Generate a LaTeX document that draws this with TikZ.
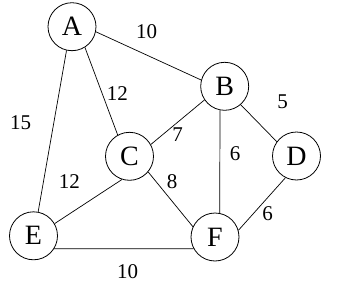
\documentclass[tikz,border=0pt]{standalone}
\usepackage{fontspec}
\setmainfont{Liberation Serif}
\begin{document}
\begin{tikzpicture}[x=1pt,y=-1pt,
  vtx/.style={draw,circle,minimum size=48pt,inner sep=0pt,line width=0.8pt,font=\fontsize{28}{30}\selectfont},
  wt/.style={inner sep=0pt,font=\fontsize{21}{24}\selectfont},
  edge/.style={line width=0.7pt}]
\useasboundingbox (0,0) rectangle (346,292);
\node[vtx] (A) at (72,26.7) {A};
\node[vtx] (B) at (224.7,86.3) {B};
\node[vtx] (C) at (129.5,156.3) {C};
\node[vtx] (D) at (296.5,156) {D};
\node[vtx] (E) at (33.5,235.8) {E};
\node[vtx] (F) at (215,237) {F};
\draw[edge] (A.-12) -- (B.165);
\draw[edge] (A.-58) -- (C.119);
\draw[edge] (A.-103) -- (E.79);
\draw[edge] (B.-146) -- (C.29);
\draw[edge] (B.-49) -- (D.144);
\draw[edge] (B.-101) -- (F.79);
\draw[edge] (C.-108) -- (E.30);
\draw[edge] (C.-40) -- (F.155);
\draw[edge] (D.-117) -- (F.16);
\draw[edge] (E.-32) -- (F.-151);
\node[wt] (wAB) at (146.7,31.7) {10};
\node[wt] (wAC) at (117.3,93.3) {12};
\node[wt] (wAE) at (20.7,122.7) {15};
\node[wt] (wBD) at (282.7,101.7) {5};
\node[wt] (wBC) at (177.7,134.3) {7};
\node[wt] (wBF) at (235,154) {6};
\node[wt] (wCE) at (69.3,181.7) {12};
\node[wt] (wCF) at (172,181.7) {8};
\node[wt] (wDF) at (267.7,213.3) {6};
\node[wt] (wEF) at (127.7,271.7) {10};
\end{tikzpicture}
\end{document}
